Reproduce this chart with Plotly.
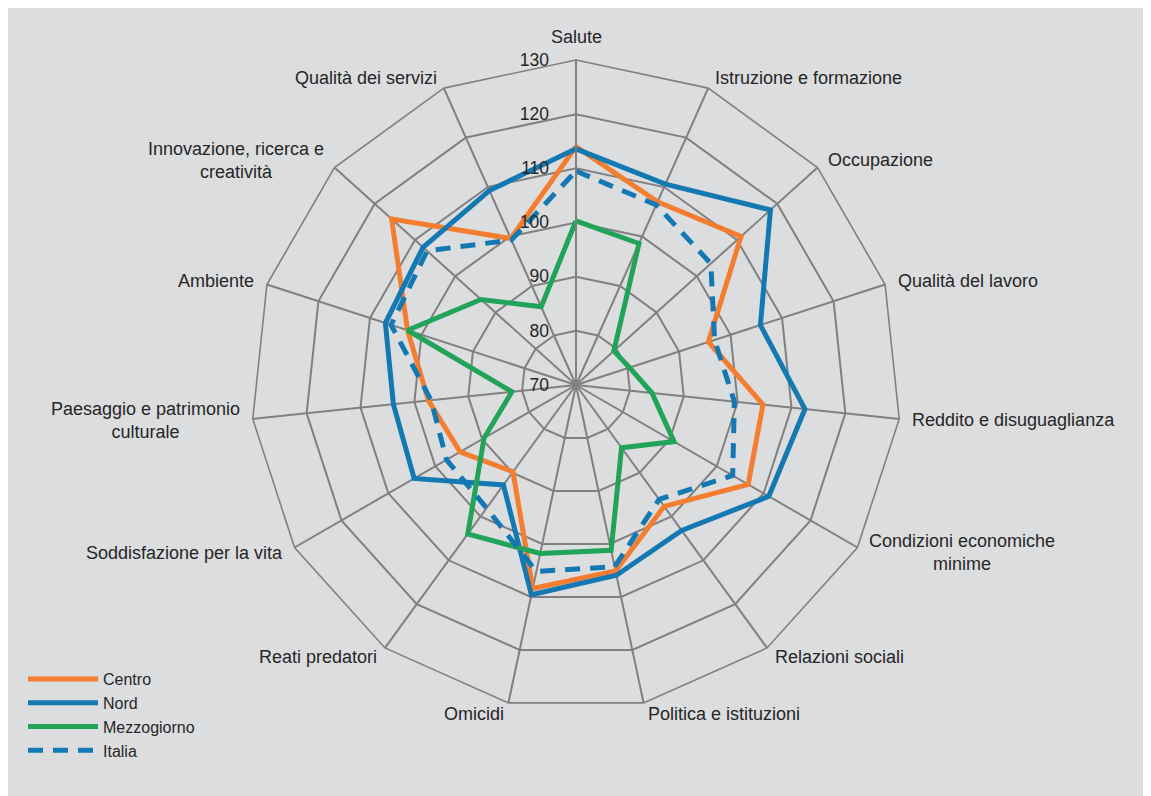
import math
import plotly.graph_objects as go

categories = ["Salute", "Istruzione e formazione", "Occupazione", "Qualità del lavoro",
              "Reddito e disuguaglianza", "Condizioni economiche minime", "Relazioni sociali",
              "Politica e istituzioni", "Omicidi", "Reati predatori", "Soddisfazione per la vita",
              "Paesaggio e patrimonio culturale", "Ambiente", "Innovazione, ricerca e creatività",
              "Qualità dei servizi"]
category_labels = ["Salute", "Istruzione e formazione", "Occupazione", "Qualità del lavoro",
                   "Reddito e disuguaglianza", "Condizioni economiche<br>minime", "Relazioni sociali",
                   "Politica e istituzioni", "Omicidi", "Reati predatori", "Soddisfazione per la vita",
                   "Paesaggio e patrimonio<br>culturale", "Ambiente", "Innovazione, ricerca e<br>creatività",
                   "Qualità dei servizi"]

centro = [114.0, 107.0, 111.0, 95.7, 104.7, 106.7, 97.7, 105.1, 108.4, 89.8, 94.7, 97.4, 102.7, 115.8, 99.6]
nord = [113.6, 110.6, 118.3, 105.8, 112.5, 111.1, 103.2, 105.9, 109.6, 92.8, 104.5, 103.9, 107.0, 108.0, 109.3]
mezzogiorno = [100.3, 98.6, 79.4, 80.4, 84.1, 90.9, 84.3, 101.2, 101.8, 104.0, 89.6, 81.9, 102.7, 93.6, 85.8]
italia = [109.5, 106.4, 103.5, 96.9, 99.4, 103.4, 96.1, 104.3, 105.2, 98.1, 97.6, 96.9, 105.9, 107.0, 99.3]

radial_ticks = [70, 80, 90, 100, 110, 120, 130]

series = [
    ("Centro", centro, "#F47D30", "solid"),
    ("Nord", nord, "#1479B3", "solid"),
    ("Mezzogiorno", mezzogiorno, "#21A35A", "solid"),
    ("Italia", italia, "#1479B3", "15px,10px"),
]

BG = "#DCDDDF"
GRID = "#808080"
TXT = "#262626"
FONT = "Liberation Sans, Arial, sans-serif"

fig = go.Figure()
for name, vals, col, dash in series:
    fig.add_trace(go.Scatterpolar(
        r=vals + vals[:1], theta=categories + categories[:1], name=name, mode="lines",
        line=dict(color=col, width=5, dash=dash),
    ))

W, H = 1136, 790
cx, cy, R = 568, 377, 325   # polar centre and radius in figure pixels
GAP = 11

# category labels placed just outside each vertex of the outer polygon
annotations = []
n = len(category_labels)
for i, lab in enumerate(category_labels):
    a = math.radians(360.0 * i / n)
    dx, dy = math.sin(a), -math.cos(a)
    px = cx + (R + GAP) * dx
    py = cy + (R + GAP) * dy
    if dx > 0.01:
        xa = "left"
    elif dx < -0.01:
        xa = "right"
    else:
        xa = "center"
    ya = "bottom" if dy < -0.99 else "middle"
    annotations.append(dict(
        text=lab, x=px / W, y=(H - py) / H, xref="paper", yref="paper",
        xanchor=xa, yanchor=ya, align="center", showarrow=False,
        font=dict(size=18, color=TXT, family=FONT),
    ))

fig.update_layout(
    width=W, height=H,
    margin=dict(l=0, r=0, t=0, b=0),
    paper_bgcolor=BG,
    font=dict(family=FONT, color=TXT, size=18),
    polar=dict(
        domain=dict(x=[(cx - R) / W, (cx + R) / W], y=[(H - cy - R) / H, (H - cy + R) / H]),
        bgcolor=BG,
        gridshape="linear",
        radialaxis=dict(range=[70, 130], tickvals=radial_ticks, angle=90, tickangle=90,
                        showline=True, linecolor=GRID, linewidth=1.6, gridcolor=GRID, gridwidth=1.6,
                        ticks="outside", ticklen=20, tickcolor="rgba(0,0,0,0)",
                        tickfont=dict(size=17.5, color=TXT), side="counterclockwise"),
        angularaxis=dict(direction="clockwise", rotation=90, showline=True, linecolor=GRID,
                         linewidth=1.6, gridcolor=GRID, gridwidth=1.6, ticks="",
                         showticklabels=False),
    ),
    annotations=annotations,
    showlegend=True,
    legend=dict(x=15 / W, y=(H - 654) / H, xanchor="left", yanchor="top",
                bgcolor="rgba(0,0,0,0)", font=dict(size=16, color=TXT),
                itemwidth=70, tracegroupgap=0),
)

fig.write_html("out.html")
